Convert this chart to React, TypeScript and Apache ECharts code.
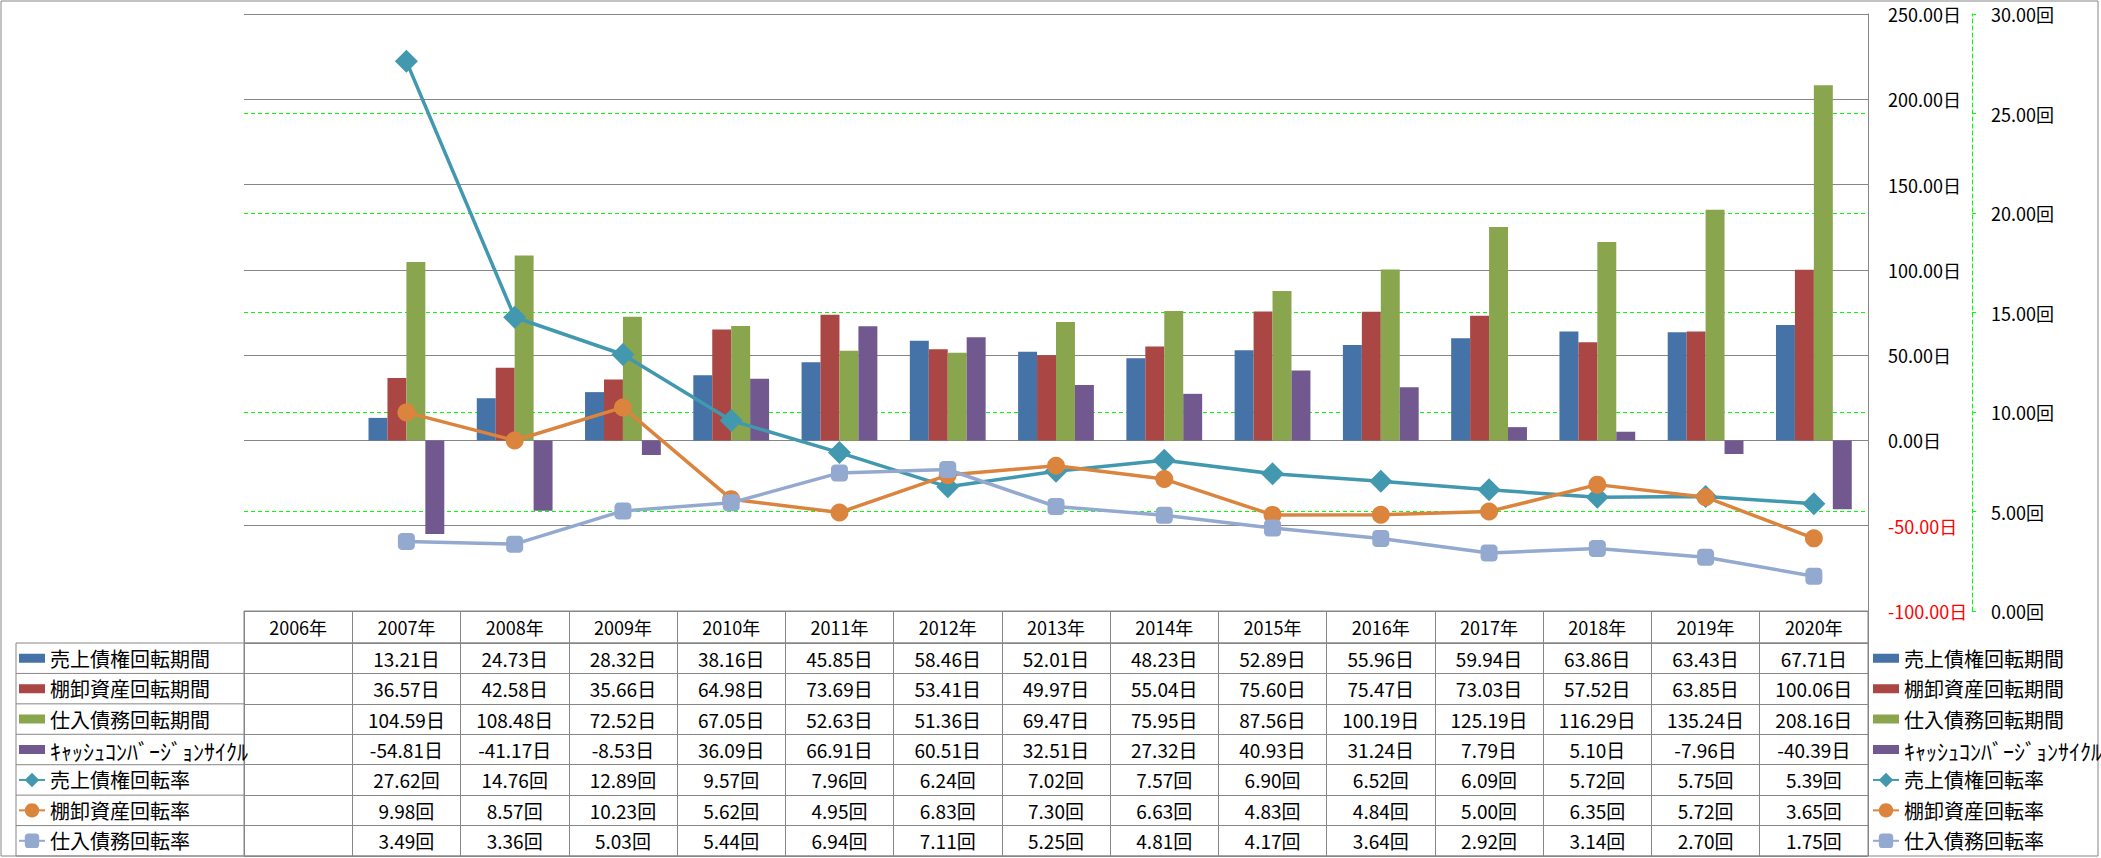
import React, { useEffect, useRef } from 'react';
import * as echarts from 'echarts';

// ---- data ----
const years = ['2006年', '2007年', '2008年', '2009年', '2010年', '2011年', '2012年', '2013年', '2014年', '2015年', '2016年', '2017年', '2018年', '2019年', '2020年'];
const seriesNames = ['売上債権回転期間', '棚卸資産回転期間', '仕入債務回転期間', 'ｷｬｯｼｭｺﾝﾊﾞｰｼﾞｮﾝｻｲｸﾙ', '売上債権回転率', '棚卸資産回転率', '仕入債務回転率'];
const receivableDays = [null, 13.21, 24.73, 28.32, 38.16, 45.85, 58.46, 52.01, 48.23, 52.89, 55.96, 59.94, 63.86, 63.43, 67.71];
const inventoryDays = [null, 36.57, 42.58, 35.66, 64.98, 73.69, 53.41, 49.97, 55.04, 75.60, 75.47, 73.03, 57.52, 63.85, 100.06];
const payableDays = [null, 104.59, 108.48, 72.52, 67.05, 52.63, 51.36, 69.47, 75.95, 87.56, 100.19, 125.19, 116.29, 135.24, 208.16];
const cashConversionCycle = [null, -54.81, -41.17, -8.53, 36.09, 66.91, 60.51, 32.51, 27.32, 40.93, 31.24, 7.79, 5.10, -7.96, -40.39];
const receivableTurnover = [null, 27.62, 14.76, 12.89, 9.57, 7.96, 6.24, 7.02, 7.57, 6.90, 6.52, 6.09, 5.72, 5.75, 5.39];
const inventoryTurnover = [null, 9.98, 8.57, 10.23, 5.62, 4.95, 6.83, 7.30, 6.63, 4.83, 4.84, 5.00, 6.35, 5.72, 3.65];
const payableTurnover = [null, 3.49, 3.36, 5.03, 5.44, 6.94, 7.11, 5.25, 4.81, 4.17, 3.64, 2.92, 3.14, 2.70, 1.75];
const dayUnit = '日';
const timesUnit = '回';
const dayAxis = { min: -100, max: 250, interval: 50 };
const timesAxis = { min: 0, max: 30, interval: 5 };

// ---- styles / layout ----
const colors = ['#4572A7', '#AA4643', '#89A54E', '#71588F', '#4198AF', '#DB843D', '#93A9CF'];
const W = 2101;
const H = 858;
const plotLeft = 244;
const plotRight = 1868;
const plotTop = 14;
const plotBottom = 611;
const headerBottom = 643;
const tableBottom = 856;
const rowH = (tableBottom - headerBottom) / 7;
const gray = '#868686';
const green = '#00FF00';
const FONT = '"Noto Sans CJK JP", "Noto Sans", sans-serif';
const legendLineHeight = 26;

const barIcon = 'path://M0,0h0.01v0.01h-0.01z M0,4.5h26v9h-26z M25.99,17.99h0.01v0.01h-0.01z';

export default function App() {
  const ref = useRef<HTMLDivElement>(null);

  useEffect(() => {
    if (!ref.current) return;
    const chart = echarts.init(ref.current, null, { renderer: 'svg' });

    const dayData = [receivableDays, inventoryDays, payableDays, cashConversionCycle];
    const timesData = [receivableTurnover, inventoryTurnover, payableTurnover];
    const allRows = [...dayData, ...timesData];
    const units = [dayUnit, dayUnit, dayUnit, dayUnit, timesUnit, timesUnit, timesUnit];

    const headerCells = years.map((y, i) => ({ x: i, y: 0, text: y }));
    const bodyCells: { x: number; y: number; text: string }[] = [];
    allRows.forEach((row, r) => {
      row.forEach((v, i) => {
        if (v !== null && v !== undefined) {
          bodyCells.push({ x: i, y: r, text: (v as number).toFixed(2) + units[r] });
        }
      });
    });

    const textRender = (cells: { x: number; y: number; text: string }[], size: number) => (params: any, api: any) => {
      const c = cells[params.dataIndex];
      const p = api.coord([api.value(0), api.value(1)]);
      return {
        type: 'text',
        x: p[0],
        y: p[1],
        style: {
          text: c.text,
          align: 'center',
          verticalAlign: 'middle',
          fontSize: size,
          fontFamily: FONT,
          fill: '#000',
        },
      };
    };

    const barSeries = dayData.map((d, i) => ({
      name: seriesNames[i],
      type: 'bar',
      xAxisIndex: 0,
      yAxisIndex: 0,
      data: d,
      barGap: '0%',
      barCategoryGap: '30%',
      itemStyle: { color: colors[i] },
      z: 2,
    }));
    const symbols = ['diamond', 'circle', 'roundRect'];
    const symbolSizes = [23, 18, 17];
    const lineSeries = timesData.map((d, i) => ({
      name: seriesNames[4 + i],
      type: 'line',
      xAxisIndex: 0,
      yAxisIndex: 1,
      data: d,
      symbol: symbols[i],
      symbolSize: symbolSizes[i],
      showSymbol: true,
      lineStyle: { color: colors[4 + i], width: 3.5 },
      itemStyle: { color: colors[4 + i] },
      z: 3 + i,
    }));

    const legendData = seriesNames.map((n, i) => (i < 4 ? { name: n, icon: barIcon } : { name: n }));
    const legendCommon = {
      orient: 'vertical',
      top: headerBottom + rowH / 2 - legendLineHeight / 2,
      itemGap: rowH - legendLineHeight,
      itemWidth: 26,
      itemHeight: 18,
      padding: 0,
      selectedMode: false,
      formatter: (name: string) => (name === seriesNames[3] ? '{k|' + name + '}' : name),
      textStyle: {
        fontSize: 20,
        fontFamily: FONT,
        color: '#000',
        lineHeight: legendLineHeight,
        rich: { k: { fontSize: 22, fontFamily: FONT, color: '#000', lineHeight: legendLineHeight } },
      },
      data: legendData,
    };

    const graphicEls: any[] = [
      {
        type: 'rect',
        shape: { x: 1, y: 1, width: W - 4, height: tableBottom - 1 },
        style: { fill: 'none', stroke: gray, lineWidth: 1 },
        silent: true,
      },
      {
        type: 'line',
        shape: { x1: 16, y1: headerBottom, x2: 16, y2: tableBottom },
        style: { stroke: gray, lineWidth: 1 },
        silent: true,
      },
    ];
    for (let k = 0; k <= 7; k++) {
      const y = headerBottom + k * rowH;
      graphicEls.push({
        type: 'line',
        shape: { x1: 16, y1: y, x2: plotLeft, y2: y },
        style: { stroke: gray, lineWidth: 1 },
        silent: true,
      });
    }

    chart.setOption({
      animation: false,
      backgroundColor: '#fff',
      textStyle: { fontFamily: FONT },
      grid: [
        { left: plotLeft, right: W - plotRight, top: plotTop, height: plotBottom - plotTop, containLabel: false },
        { left: plotLeft, right: W - plotRight, top: plotBottom, height: headerBottom - plotBottom, show: true, borderColor: gray, borderWidth: 1, backgroundColor: 'transparent' },
        { left: plotLeft, right: W - plotRight, top: headerBottom, height: tableBottom - headerBottom, show: true, borderColor: gray, borderWidth: 1, backgroundColor: 'transparent' },
      ],
      legend: [
        { ...legendCommon, left: 18 },
        { ...legendCommon, left: 1872 },
      ],
      xAxis: [
        { type: 'category', gridIndex: 0, data: years, axisLabel: { show: false }, axisTick: { show: false }, axisLine: { show: false }, splitLine: { show: false } },
        { type: 'category', gridIndex: 1, data: years, axisLabel: { show: false }, axisTick: { show: false }, axisLine: { show: false }, splitLine: { show: true, interval: 0, lineStyle: { color: gray, width: 1 } } },
        { type: 'category', gridIndex: 2, data: years, axisLabel: { show: false }, axisTick: { show: false }, axisLine: { show: false }, splitLine: { show: true, interval: 0, lineStyle: { color: gray, width: 1 } } },
      ],
      yAxis: [
        {
          type: 'value',
          gridIndex: 0,
          position: 'right',
          z: 1,
          min: dayAxis.min,
          max: dayAxis.max,
          interval: dayAxis.interval,
          axisLine: { show: true, lineStyle: { color: gray, width: 1 } },
          axisTick: { show: false },
          axisLabel: {
            margin: 20,
            fontSize: 18,
            fontFamily: FONT,
            align: 'left',
            formatter: (v: number) => v.toFixed(2) + dayUnit,
            color: (v: any) => (Number(v) < 0 ? '#FF0000' : '#000000'),
          },
          splitLine: { show: true, lineStyle: { color: gray, width: 1 } },
        },
        {
          type: 'value',
          gridIndex: 0,
          position: 'right',
          z: 0,
          offset: 104,
          min: timesAxis.min,
          max: timesAxis.max,
          interval: timesAxis.interval,
          axisLine: { show: true, lineStyle: { color: green, width: 1, type: [4, 3] } },
          axisTick: { show: true, length: 4, lineStyle: { color: green, width: 1 } },
          axisLabel: {
            margin: 19,
            fontSize: 18,
            fontFamily: FONT,
            align: 'left',
            color: '#000',
            formatter: (v: number) => v.toFixed(2) + timesUnit,
          },
          splitLine: { show: true, lineStyle: { color: green, width: 1, type: [4, 3] } },
        },
        { type: 'category', gridIndex: 1, inverse: true, data: ['header'], axisLabel: { show: false }, axisTick: { show: false }, axisLine: { show: false }, splitLine: { show: false } },
        { type: 'category', gridIndex: 2, inverse: true, data: seriesNames, axisLabel: { show: false }, axisTick: { show: false }, axisLine: { show: false }, splitLine: { show: true, interval: 0, lineStyle: { color: gray, width: 1 } } },
      ],
      series: [
        ...barSeries,
        ...lineSeries,
        {
          type: 'custom',
          name: 'header',
          xAxisIndex: 1,
          yAxisIndex: 2,
          clip: false,
          silent: true,
          data: headerCells.map((c) => [c.x, c.y]),
          renderItem: textRender(headerCells, 18),
        },
        {
          type: 'custom',
          name: 'body',
          xAxisIndex: 2,
          yAxisIndex: 3,
          clip: false,
          silent: true,
          data: bodyCells.map((c) => [c.x, c.y]),
          renderItem: textRender(bodyCells, 19),
        },
      ],
      graphic: graphicEls,
    });

    return () => chart.dispose();
  }, []);

  return (
    <div
      ref={ref}
      style={{ position: 'absolute', left: 0, top: 0, width: W, height: H, background: '#fff' }}
    />
  );
}
